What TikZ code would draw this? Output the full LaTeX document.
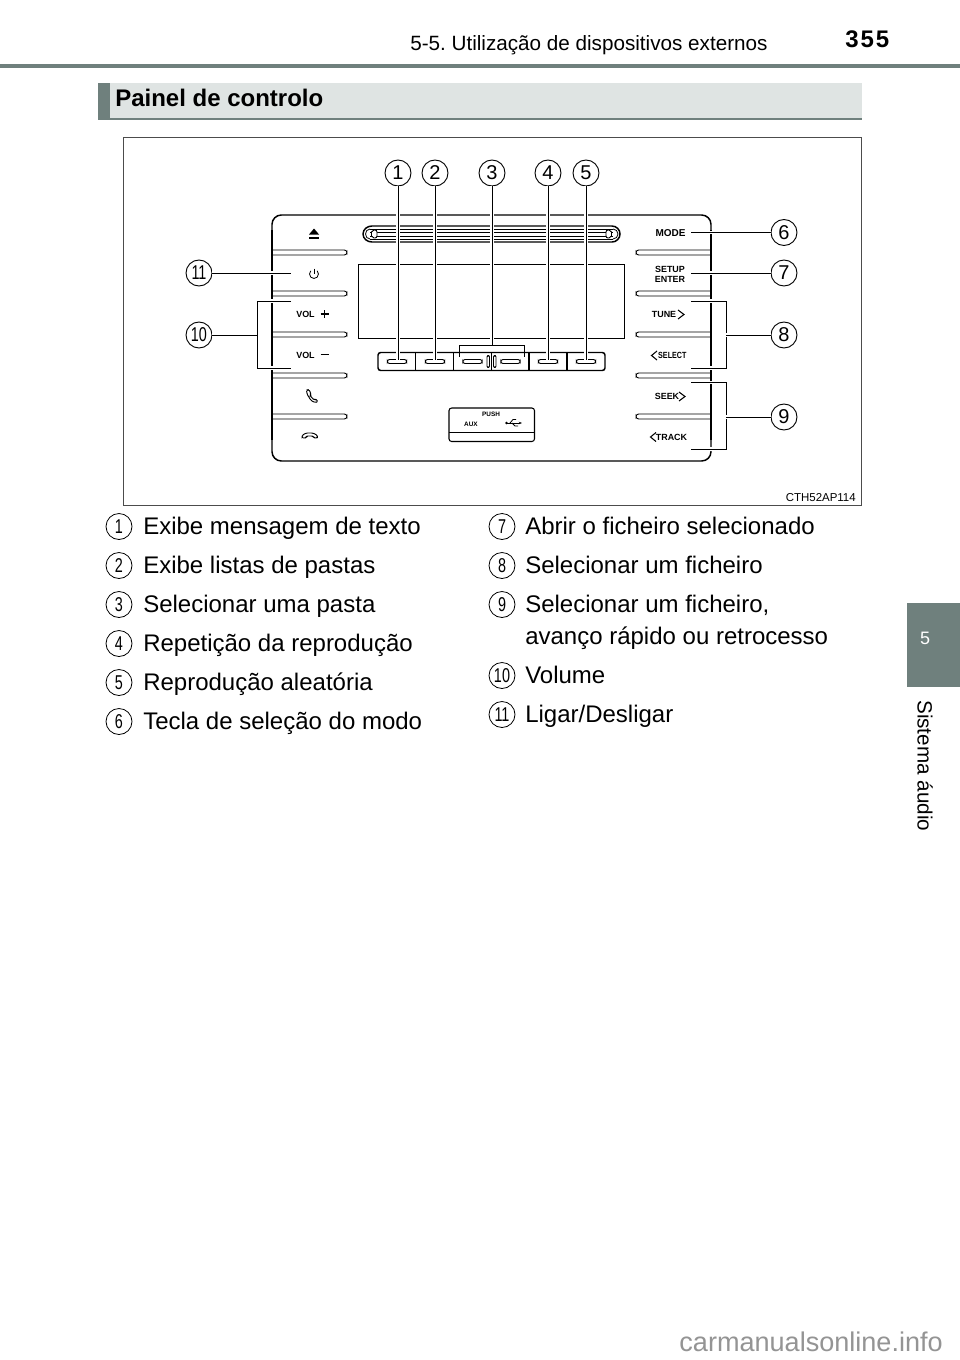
\documentclass[tikz,border=0pt]{standalone}
\usepackage{fontspec}
\setmainfont{Liberation Sans}
\usepackage{xcolor}
\usetikzlibrary{arrows.meta,positioning,calc}
\definecolor{tabgray}{HTML}{6F807D}
\definecolor{bandgray}{HTML}{DFE4E3}
\newcommand{\bodysize}{\fontsize{18pt}{22pt}\selectfont}
\newcommand{\keysize}{\fontsize{6.7pt}{8pt}\selectfont\bfseries}
\newcommand{\narrownum}[1]{\scalebox{0.72}[1]{#1}}
\frenchspacing
\begin{document}
\begin{tikzpicture}[x=0.75pt,y=-0.75pt,
  num/.style={draw, circle, line width=0.7pt, minimum size=19.5pt, inner sep=0pt, font=\fontsize{15pt}{15pt}\selectfont, fill=white},
  itemnum/.style={draw, circle, line width=0.6pt, minimum size=19.5pt, inner sep=0pt, font=\fontsize{15pt}{15pt}\selectfont},
  item/.style={anchor=base west, inner sep=0pt, font=\bodysize, align=left},
  keylabel/.style={inner sep=0pt, font=\keysize},
  lead/.style={line width=0.75pt, preaction={draw=white, line width=2.6pt}},
  panel/.style={line width=1.1pt},
  capsule/.style={draw, rounded corners=1.7pt, line width=0.7pt, fill=white}]
  \useasboundingbox (0,0) rectangle (960,1360);
  % page furniture
  \fill[white] (0,0) rectangle (960,1360);
  \fill[tabgray] (0,64) rectangle (960,67.5);
  \fill[tabgray] (907,603) rectangle (960,687);
  \node[text=white, font=\fontsize{13.5pt}{14pt}\selectfont] (tabnum) at (925,638) {5};
  \node[rotate=-90, font=\fontsize{15.5pt}{17pt}\selectfont, anchor=west, inner sep=0pt] (tabtext) at (925,700) {Sistema áudio};
  \node[anchor=base west, inner sep=0pt, font=\fontsize{15.5pt}{18pt}\selectfont] (head) at (410,50) {5-5. Utilização de dispositivos externos};
  \node[anchor=base west, inner sep=0pt, font=\fontsize{18pt}{20pt}\selectfont\bfseries] (pageno) at (845,47) {3\kern1.5pt5\kern1.5pt5};
  \fill[bandgray] (98,83) rectangle (862,118);
  \fill[tabgray] (98,83) rectangle (110,120);
  \fill[tabgray] (98,118) rectangle (862,120);
  \node[anchor=base west, inner sep=0pt, font=\fontsize{18pt}{20pt}\selectfont\bfseries] (title) at (115,106.5) {Painel de controlo};
  \draw[line width=0.6pt, black!70] (123.5,137.5) rectangle (861.5,505.5);
  \node[anchor=base east, inner sep=0pt, font=\fontsize{8.6pt}{10pt}\selectfont] (code) at (856,501) {CTH52AP114};
  % radio panel
  \draw[panel, rounded corners=7pt] (272,215) rectangle (711,461);
  \foreach \yy in {252.5,293.5,334.5,375.5,416.5} {
    \fill[white] (272,\yy-2.5) rectangle (347,\yy+2.5);
    \draw[line width=0.7pt, rounded corners=2pt] (272,\yy-2.5) -- (347,\yy-2.5) -- (347,\yy+2.5) -- (272,\yy+2.5);
    \fill[white] (636,\yy-2.5) rectangle (711,\yy+2.5);
    \draw[line width=0.7pt, rounded corners=2pt] (711,\yy-2.5) -- (636,\yy-2.5) -- (636,\yy+2.5) -- (711,\yy+2.5);
  }
  \draw[panel] (272,230) -- (272,440) (711,230) -- (711,440);
  % slot and display
  \draw[panel] (372,226) -- (612,226) to[out=0,in=90] (620,234) to[out=-90,in=0] (612,242) -- (372,242) to[out=180,in=-90] (363,234) to[out=90,in=180] (372,226);
  \foreach \yy in {229,232.5,236,239} \draw[line width=0.55pt] (370,\yy) -- (613,\yy);
  \draw[line width=0.6pt] (370,229) to[out=180,in=90] (365.5,234) to[out=-90,in=180] (370,239);
  \draw[line width=0.6pt] (613,229) to[out=0,in=90] (618,234) to[out=-90,in=0] (613,239);
  \draw[line width=0.7pt, rounded corners=1.5pt, fill=white] (377,230) -- (372,230) -- (371,234) -- (372,238) -- (377,238) -- cycle;
  \draw[line width=0.7pt, rounded corners=1.5pt, fill=white] (606,230) -- (611,230) -- (612,234) -- (611,238) -- (606,238) -- cycle;
  \draw[line width=0.7pt] (358,264.5) rectangle (624.5,338);
  % bottom keys
  \draw[panel, rounded corners=2pt] (378,352.5) rectangle (605,370.5);
  \foreach \xx in {415.7,453.5,491.5,529,567} \draw[line width=0.8pt] (\xx,352.5) -- (\xx,370.5);
  \foreach \xx in {397,435,472.5,510.5,548,586} \draw[capsule] (\xx-9.7,359.5) rectangle (\xx+9.7,363.5);
  \draw[capsule, rounded corners=1pt] (487,355.5) rectangle (489.5,367.5);
  \draw[capsule, rounded corners=1pt] (493.5,355.5) rectangle (496,367.5);
  % aux box
  \draw[line width=0.8pt, rounded corners=2pt] (449,408) rectangle (534.5,441.5);
  \draw[line width=0.6pt] (449,432.7) -- (534.5,432.7);
  \node[keylabel, font=\fontsize{4.8pt}{6pt}\selectfont\bfseries] (push) at (491,414) {PUSH};
  \node[keylabel, font=\fontsize{4.8pt}{6pt}\selectfont\bfseries] (aux) at (471,424) {AUX};
  \draw[line width=0.7pt, -{Stealth[length=2.5pt]}] (506,423) -- (522,423);
  \fill (506.5,423) circle (1.3);
  \draw[line width=0.6pt] (510,423) -- (513,419.5) -- (516,419.5);
  \draw[line width=0.6pt] (512,423) -- (515,426) -- (518,426);
  % key labels
  \fill (309,236.5) -- (319,236.5) -- (319,238.5) -- (309,238.5) -- cycle;
  \fill (309,234.5) -- (314,228.5) -- (319,234.5) -- cycle;
  \draw[line width=0.6pt] (310.8,270.8) arc[start angle=-135, end angle=-405, radius=4.5];
  \draw[line width=0.6pt] (314,268.5) -- (314,274);
  \node[keylabel] (vp) at (305.5,314) {VOL};
  \draw[line width=0.8pt] (320.5,314) -- (328.5,314) (324.5,310) -- (324.5,318);
  \node[keylabel] (vm) at (305.5,355) {VOL};
  \draw[line width=0.9pt] (320.5,354.5) -- (328.5,354.5);
  \draw[line width=0.7pt, rounded corners=1pt] (306.5,390) -- (309,389.5) -- (311,394) -- (310,395.5) -- (314,400) -- (316,399) -- (318,402) -- (315,402.5) -- (311,400.5) -- (307,394) -- cycle;
  \draw[line width=0.7pt, rounded corners=1pt] (302,438) -- (302,435.5) -- (306,433) -- (313,433) -- (317.5,435.5) -- (317.5,438) -- (314,438) -- (313,436) -- (306.5,436) -- (306,438) -- cycle;
  \node[keylabel, font=\fontsize{7.5pt}{8pt}\selectfont\bfseries] (mode) at (670.5,233) {MODE};
  \node[keylabel, align=center] (setup) at (670,274) {SETUP\\[-0.5pt]ENTER};
  \node[keylabel] (tune) at (664,314.5) {TUNE};
  \draw[line width=0.8pt] (678,310) -- (684,314.5) -- (678,319);
  \node[keylabel, anchor=west, xscale=0.8] (select) at (658,355.5) {SELECT};
  \draw[line width=0.8pt] (657,351) -- (651.5,355.5) -- (657,360);
  \node[keylabel] (seek) at (667,396.5) {SEEK};
  \draw[line width=0.8pt] (679,392) -- (685,396.5) -- (679,401);
  \node[keylabel] (track) at (671.5,437) {TRACK};
  \draw[line width=0.8pt] (656,432.5) -- (650.5,437) -- (656,441.5);
  % numbered leaders
  \coordinate (k1) at (398,360);
  \coordinate (k2) at (435,360);
  \coordinate (k3) at (492,345.7);
  \coordinate (k4) at (548,360);
  \coordinate (k5) at (586,360);
  \coordinate (k6) at (691,232.5);
  \coordinate (k7) at (691,273);
  \coordinate (k11) at (291,273);
  \coordinate (b8) at (726,335);
  \coordinate (b9) at (726,417);
  \coordinate (b10) at (257,335);
  \node[num] (n1) at (398,173) {1};
  \node[num] (n2) at (435,173) {2};
  \node[num] (n3) at (492,173) {3};
  \node[num] (n4) at (548,173) {4};
  \node[num] (n5) at (586,173) {5};
  \node[num] (n6) at (784,232.5) {6};
  \node[num] (n7) at (784,273) {7};
  \node[num] (n8) at (784,335) {8};
  \node[num] (n9) at (784,417) {9};
  \node[num] (n10) at (199,335) {\narrownum{10}};
  \node[num] (n11) at (199,273) {\narrownum{11}};
  \foreach \i in {1,...,5} \draw[lead] (n\i) -- (k\i);
  \draw[lead] (n6) -- (k6);
  \draw[lead] (n7) -- (k7);
  \draw[lead] (n11) -- (k11);
  \draw[lead] (691,301) -- (726,301) -- (726,368) -- (691,368);
  \draw[lead] (691,382.7) -- (726,382.7) -- (726,449) -- (691,449);
  \draw[lead] (291,301) -- (257,301) -- (257,368) -- (291,368);
  \draw[line width=0.75pt] (459,356.5) -- (459,345.7) -- (524,345.7) -- (524,356.5);
  \draw[lead] (n8) -- (b8);
  \draw[lead] (n9) -- (b9);
  \draw[lead] (n10) -- (b10);
  % left list
  \foreach \i/\yy/\txt in {1/534/Exibe mensagem de texto,2/573/Exibe listas de pastas,3/612/Selecionar uma pasta,4/651/Repetição da reprodução,5/690/Reprodução aleatória,6/729/Tecla de seleção do modo} {
    \node[itemnum] (l\i) at (119,\yy-7.5) {\narrownum{\i}};
    \node[item] (t\i) at (143,\yy) {\txt};
  }
  % right list
  \foreach \i/\yy/\txt in {7/534/Abrir o ficheiro selecionado,8/573/Selecionar um ficheiro,9/612/{Selecionar um ficheiro,},10/683/Volume,11/722/{Ligar/Desligar}} {
    \node[itemnum] (l\i) at (502,\yy-7.5) {\narrownum{\i}};
    \node[item] (t\i) at (525,\yy) {\txt};
  }
  \node[item] (t9b) at (525,644) {avanço rápido ou retrocesso};
  % site mark
  \node[anchor=base east, inner sep=0pt, text=black!42, font=\fontsize{20.3pt}{22pt}\selectfont] (site) at (943,1351) {carmanualsonline.info};
\end{tikzpicture}
\end{document}
